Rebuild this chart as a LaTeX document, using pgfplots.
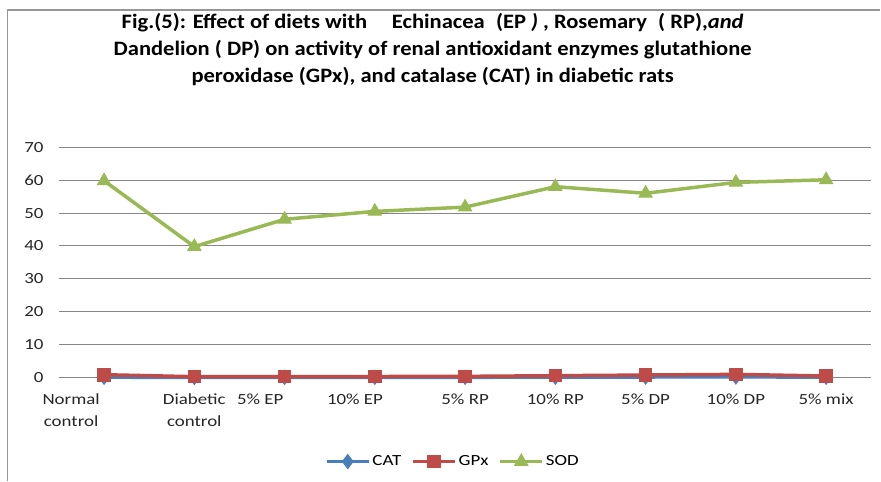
\documentclass[border=0pt]{standalone}
\usepackage{pgfplots}
\pgfplotsset{compat=1.18}
\usepackage{fontspec}
\setmainfont{Carlito}
\newfontfamily\widefont[FakeStretch=1.22]{Carlito}
\newfontfamily\titlefont[FakeStretch=1.1]{Carlito}
\definecolor{catc}{RGB}{74,126,187}
\definecolor{gpxc}{RGB}{190,75,72}
\definecolor{sodc}{RGB}{152,185,84}
\definecolor{gridc}{RGB}{134,134,134}
\definecolor{framec}{RGB}{150,150,150}
\begin{document}
\begin{tikzpicture}[x=1pt,y=1pt]
\path (0,0) rectangle (881,481);
\draw[framec, line width=1.5pt] (7.5,0) -- (7.5,471) -- (881,471);
\node[align=center, font=\titlefont\bfseries\fontsize{20.5}{27}\selectfont] at (433,431)
{Fig.(5): Effect of diets with\hspace{1.2em}Echinacea\hspace{0.3em} (EP \textit{)} , Rosemary\hspace{0.3em} ( RP),\textit{and}\\
Dandelion ( DP) on activity of renal antioxidant enzymes glutathione\\
peroxidase (GPx), and catalase (CAT) in diabetic rats};
\begin{axis}[
  at={(59pt,103pt)}, anchor=south west,
  scale only axis, width=813pt, height=230.7pt,
  xmin=-0.5, xmax=8.5, ymin=0, ymax=70,
  ytick={0,10,...,70},
  xtick={-0.365,1,1.73,2.78,4,5,6,7,8},
  xticklabels={{Normal\\control},{Diabetic\\control},{5\% EP},{10\% EP},{5\% RP},{10\% RP},{5\% DP},{10\% DP},{5\% mix}},
  xticklabel style={align=center, font=\widefont\fontsize{15.5}{21.3}\selectfont, text=black!85},
  yticklabel style={font=\widefont\fontsize{15.5}{18}\selectfont, text=black!85},
  /pgf/number format/assume math mode=true,
  major tick length=0pt,
  axis line style={draw=none},
  ymajorgrids, grid style={gridc, line width=1pt},
  x tick label style={yshift=-13pt},
  y tick label style={xshift=-12pt},
  clip=false,
  legend columns=3,
  legend style={at={(0.485,-0.364)}, anchor=center, draw=none, font=\widefont\fontsize{15.5}{18}\selectfont,
    /tikz/every even column/.append style={column sep=8pt}},
  legend image code/.code={\draw[mark repeat=2,mark phase=2,#1] plot coordinates {(0pt,0pt) (21pt,0pt) (42pt,0pt)};},
]
\addplot[catc, line width=3.5pt, mark=diamond*, mark size=5pt, mark options={solid}] coordinates {
(0,0.15) (1,0.08) (2,0.1) (3,0.12) (4,0.12) (5,0.15) (6,0.2) (7,0.25) (8,0.15)};
\addlegendentry{CAT}
\addplot[gpxc, line width=3.5pt, mark=square*, mark size=6.3pt, mark options={solid, line width=1pt}] coordinates {
(0,0.9) (1,0.3) (2,0.3) (3,0.35) (4,0.4) (5,0.6) (6,0.8) (7,1.0) (8,0.5)};
\addlegendentry{GPx}
\addplot[sodc, line width=3.5pt, mark=triangle*, mark size=7.5pt, mark options={solid, line width=1pt}] coordinates {
(0,59.8) (1,39.8) (2,48.1) (3,50.5) (4,51.8) (5,58.0) (6,56.0) (7,59.3) (8,60.1)};
\addlegendentry{SOD}
\end{axis}
\end{tikzpicture}
\end{document}
